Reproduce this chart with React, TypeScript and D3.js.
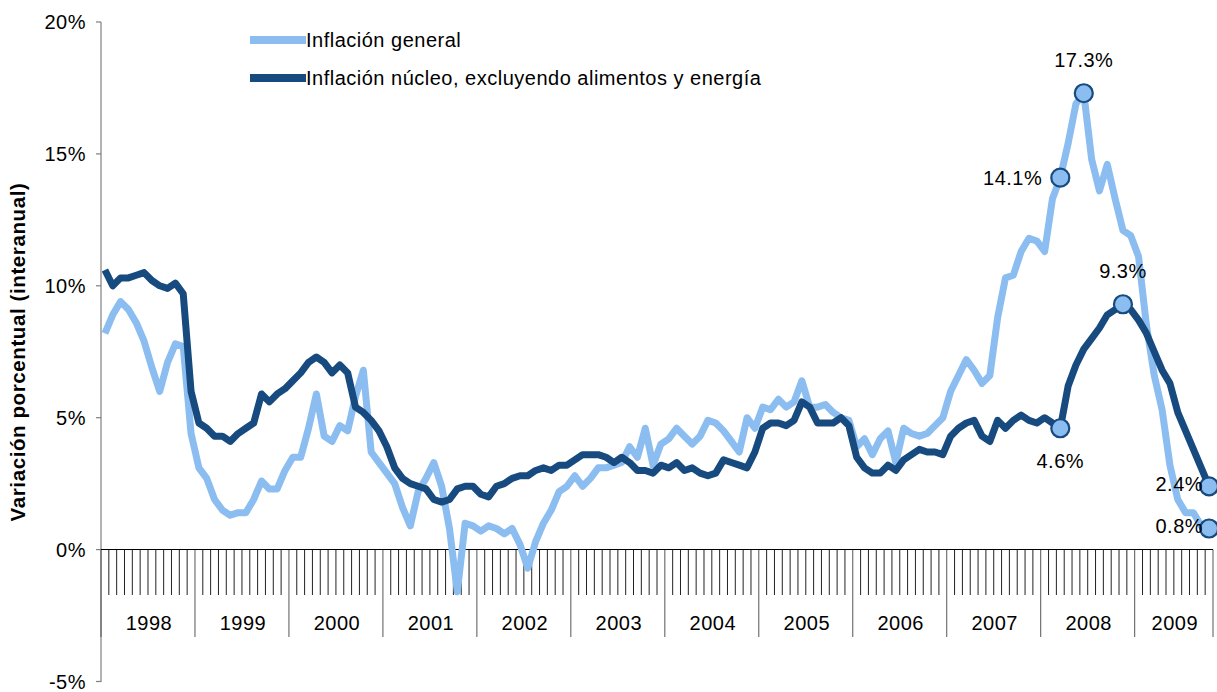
import React from 'react';
import * as d3 from 'd3';

const yearLabels = ['1998', '1999', '2000', '2001', '2002', '2003', '2004', '2005', '2006', '2007', '2008', '2009'];

// Inflación general (monthly, Jan 1998 – Oct 2009)
const general = [
  8.2, 8.9, 9.4, 9.1, 8.6, 7.9, 6.9, 6.0, 7.1, 7.8, 7.7, 4.4,
  3.1, 2.7, 1.9, 1.5, 1.3, 1.4, 1.4, 1.9, 2.6, 2.3, 2.3, 3.0,
  3.5, 3.5, 4.6, 5.9, 4.3, 4.1, 4.7, 4.5, 5.8, 6.8, 3.7, 3.3,
  2.9, 2.5, 1.6, 0.9, 2.2, 2.7, 3.3, 2.4, 0.8, -1.6, 1.0, 0.9,
  0.7, 0.9, 0.8, 0.6, 0.8, 0.2, -0.7, 0.3, 1.0, 1.5, 2.2, 2.4,
  2.8, 2.4, 2.7, 3.1, 3.1, 3.2, 3.3, 3.9, 3.5, 4.6, 3.2, 4.0,
  4.2, 4.6, 4.3, 4.0, 4.3, 4.9, 4.8, 4.5, 4.1, 3.7, 5.0, 4.6,
  5.4, 5.3, 5.7, 5.4, 5.6, 6.4, 5.4, 5.4, 5.5, 5.2, 5.0, 4.9,
  3.9, 4.2, 3.6, 4.2, 4.5, 3.3, 4.6, 4.4, 4.3, 4.4, 4.7, 5.0,
  6.0, 6.6, 7.2, 6.8, 6.3, 6.6, 8.8, 10.3, 10.4, 11.3, 11.8, 11.7,
  11.3, 13.3, 14.1, 15.4, 16.9, 17.3, 14.8, 13.6, 14.6, 13.3, 12.1, 11.9,
  11.1, 8.5, 6.6, 5.3, 3.2, 1.9, 1.4, 1.4, 0.9, 0.8,
];

// Inflación núcleo, excluyendo alimentos y energía
const core = [
  10.6, 10.0, 10.3, 10.3, 10.4, 10.5, 10.2, 10.0, 9.9, 10.1, 9.7, 6.0,
  4.8, 4.6, 4.3, 4.3, 4.1, 4.4, 4.6, 4.8, 5.9, 5.6, 5.9, 6.1,
  6.4, 6.7, 7.1, 7.3, 7.1, 6.7, 7.0, 6.7, 5.4, 5.2, 4.9, 4.5,
  3.9, 3.1, 2.7, 2.5, 2.4, 2.3, 1.9, 1.8, 1.9, 2.3, 2.4, 2.4,
  2.1, 2.0, 2.4, 2.5, 2.7, 2.8, 2.8, 3.0, 3.1, 3.0, 3.2, 3.2,
  3.4, 3.6, 3.6, 3.6, 3.5, 3.3, 3.5, 3.3, 3.0, 3.0, 2.9, 3.2,
  3.1, 3.3, 3.0, 3.1, 2.9, 2.8, 2.9, 3.4, 3.3, 3.2, 3.1, 3.7,
  4.6, 4.8, 4.8, 4.7, 4.9, 5.6, 5.4, 4.8, 4.8, 4.8, 5.0, 4.7,
  3.5, 3.1, 2.9, 2.9, 3.2, 3.0, 3.4, 3.6, 3.8, 3.7, 3.7, 3.6,
  4.3, 4.6, 4.8, 4.9, 4.3, 4.1, 4.9, 4.6, 4.9, 5.1, 4.9, 4.8,
  5.0, 4.8, 4.6, 6.2, 7.0, 7.6, 8.0, 8.4, 8.9, 9.1, 9.3, 9.1,
  8.7, 8.2, 7.5, 6.8, 6.3, 5.2, 4.5, 3.8, 3.1, 2.4,
];

const yTicks = [-5, 0, 5, 10, 15, 20];

const seriesNames = ['Inflación general', 'Inflación núcleo, excluyendo alimentos y energía'];

// highlighted points: series (0 general, 1 core), month index, label placement
const highlights = [
  { s: 0, i: 122, pos: 'left' },
  { s: 0, i: 125, pos: 'above' },
  { s: 0, i: 141, pos: 'leftNear' },
  { s: 1, i: 122, pos: 'below' },
  { s: 1, i: 130, pos: 'above' },
  { s: 1, i: 141, pos: 'leftNear' },
];

const LIGHT = '#8BBDF0';
const DARK = '#174A7E';
const FONT = '"Liberation Sans", Arial, sans-serif';

export default function App() {
  const width = 1217;
  const height = 692;
  const left = 101;
  const right = 1213;
  const y0 = 549.5;
  const n = general.length;
  const idx = d3.range(n);

  const x = d3.scaleBand<number>().domain(idx).range([left, right]).padding(0);
  const bw = x.bandwidth();
  const cx = (i: number) => (x(i) as number) + bw / 2;
  const y = d3.scaleLinear().domain([-5, 20]).range([681.5, 22]);

  const line = d3
    .line<number>()
    .x((_, i) => cx(i))
    .y((d) => y(d));

  const series = [general, core];
  const colors = [LIGHT, DARK];

  const tickXs = d3.range(n + 1).map((k) => left + k * bw);

  const fmt = (v: number) => `${v.toFixed(1)}%`;

  return (
    <svg
      width={width}
      height={height}
      style={{ position: 'absolute', left: 0, top: 0, background: '#fff' }}
      fontFamily={FONT}
    >
      {/* y axis */}
      <line x1={left} x2={left} y1={22} y2={682} stroke="#7f7f7f" strokeWidth={1.2} />
      {yTicks.map((t) => (
        <g key={t}>
          <line x1={left - 5} x2={left} y1={y(t)} y2={y(t)} stroke="#7f7f7f" strokeWidth={1.2} />
          <text x={86} y={y(t) + 7} textAnchor="end" fontSize={20} letterSpacing={0.5} fill="#000">
            {`${t}%`}
          </text>
        </g>
      ))}
      <text
        transform={`translate(25, 352) rotate(-90)`}
        textAnchor="middle"
        fontSize={20.5}
        fontWeight="bold"
        letterSpacing={0.6}
        fill="#000"
      >
        Variación porcentual (interanual)
      </text>

      {/* x axis with month ticks */}
      {tickXs.map((tx, k) => {
        const isYear = k % 12 === 0 || k === n;
        return (
          <line
            key={k}
            x1={tx}
            x2={tx}
            y1={y0}
            y2={isYear ? 637 : 595}
            stroke={isYear ? '#555' : '#222'}
            strokeWidth={1}
          />
        );
      })}
      <line x1={left} x2={right} y1={y0} y2={y0} stroke="#000" strokeWidth={1.2} />
      {yearLabels.map((yr, j) => {
        const s = j * 12;
        const e = Math.min((j + 1) * 12, n);
        const mid = left + ((s + e) / 2) * bw;
        return (
          <text key={yr} x={mid + 1} y={630} textAnchor="middle" fontSize={20} letterSpacing={0.5} fill="#000">
            {yr}
          </text>
        );
      })}

      {/* series */}
      {series.map((d, k) => (
        <path
          key={k}
          d={line(d) || ''}
          fill="none"
          stroke={colors[k]}
          strokeWidth={7}
          strokeLinejoin="round"
        />
      ))}

      {/* highlight markers and labels */}
      {highlights.map((h, k) => {
        const v = series[h.s][h.i];
        const px = cx(h.i);
        const py = y(v);
        let tx = px;
        let ty = py;
        let anchor: 'start' | 'middle' | 'end' = 'middle';
        if (h.pos === 'above') ty = py - 26;
        if (h.pos === 'below') ty = py + 40;
        if (h.pos === 'left') {
          tx = px - 18;
          ty = py + 7;
          anchor = 'end';
        }
        if (h.pos === 'leftNear') {
          tx = px - 6;
          ty = py + 5;
          anchor = 'end';
        }
        return (
          <g key={k}>
            <circle cx={px} cy={py} r={9} fill={LIGHT} stroke={DARK} strokeWidth={2.2} />
            <text x={tx} y={ty} textAnchor={anchor} fontSize={20} letterSpacing={0.5} fill="#000">
              {fmt(v)}
            </text>
          </g>
        );
      })}

      {/* legend */}
      {seriesNames.map((name, k) => (
        <g key={name}>
          <line x1={250} x2={306} y1={40 + k * 38} y2={40 + k * 38} stroke={colors[k]} strokeWidth={8} />
          <text x={306} y={47 + k * 38} fontSize={20} letterSpacing={0.5} fill="#000">
            {name}
          </text>
        </g>
      ))}
    </svg>
  );
}
